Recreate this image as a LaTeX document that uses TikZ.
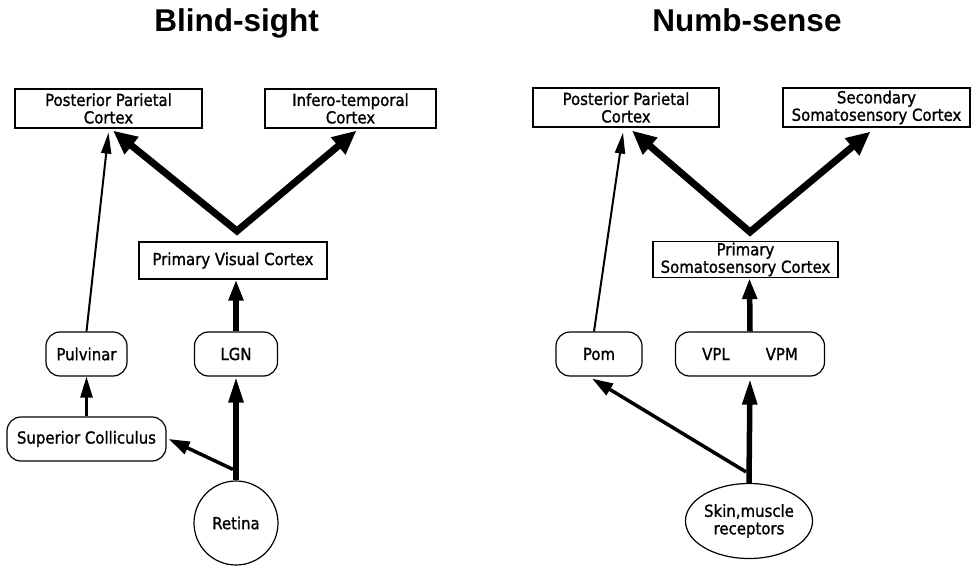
\documentclass[tikz,border=0pt]{standalone}
\usepackage{fontspec}
\setmainfont{Liberation Sans}
\newfontfamily\boxfont[FakeBold=1.2]{DejaVu Sans Condensed}
\usetikzlibrary{arrows.meta,shapes.geometric}
\begin{document}
\begin{tikzpicture}[x=1pt,y=-1pt,
  lbl/.style={font=\boxfont\fontsize{16.6}{17.5}\selectfont, align=center, inner sep=0pt},
  sqbox/.style={lbl, draw, line width=1.2pt, rectangle},
  rbox/.style={lbl, draw, line width=1.2pt, rectangle, rounded corners=14pt, minimum height=44pt},
  ttl/.style={font=\fontsize{31.5}{31.5}\selectfont\bfseries, inner sep=0pt, anchor=base},
  bigv/.style={line width=7pt, line join=miter, {Triangle[length=24pt,width=21pt]}-{Triangle[length=24pt,width=21pt]}},
  thickup/.style={line width=5.5pt, -{Triangle[length=26pt,width=14pt]}},
  midarr/.style={line width=3.5pt, -{Triangle[length=21pt,width=13pt]}},
  smallarr/.style={line width=2.5pt, -{Triangle[length=21pt,width=12pt]}},
  thinarr/.style={line width=2pt, -{Triangle[length=21pt,width=10pt]}}
]
\useasboundingbox (0,0) rectangle (972,567);

% ---------- Left: Blind-sight ----------
\node[ttl] (t1) at (236.5,32) {Blind-sight};
\node[sqbox, minimum width=187pt, minimum height=39pt] (lppc) at (108.5,108.5) {Posterior Parietal\\Cortex};
\node[sqbox, minimum width=171pt, minimum height=39pt] (lit) at (350.5,108.5) {Infero-temporal\\Cortex};
\node[sqbox, minimum width=188pt, minimum height=37pt] (pvc) at (233,260.5) {Primary Visual Cortex};
\node[rbox, minimum width=81pt] (pul) at (86.5,354) {Pulvinar};
\node[rbox, minimum width=83pt] (lgn) at (236,354) {LGN};
\node[rbox, minimum width=159pt] (sc) at (86.5,439) {Superior Colliculus};
\node[lbl, draw, line width=1.2pt, circle, minimum size=84pt] (ret) at (236,523) {Retina};

\coordinate (apexL) at (237,231);
\draw[bigv] ([xshift=4.5pt,yshift=-2pt]lppc.south) -- (apexL) -- ([xshift=6pt,yshift=-2pt]lit.south);
\draw[thickup] (ret.north) -- (lgn.south);
\draw[thickup, -{Triangle[length=21pt,width=14pt]}] (lgn.north) -- ([xshift=3pt]pvc.south);
\draw[midarr] ([xshift=-3pt,yshift=11pt]ret.north) -- ([xshift=2pt]sc.east);
\draw[smallarr] (sc.north) -- (pul.south);
\draw[thinarr] (pul.north) -- ([yshift=-4pt]lppc.south);

% ---------- Right: Numb-sense ----------
\node[ttl] (t2) at (747,32) {Numb-sense};
\node[sqbox, minimum width=186pt, minimum height=39pt] (rppc) at (626,107.5) {Posterior Parietal\\Cortex};
\node[sqbox, minimum width=187pt, minimum height=39pt] (ssc) at (876.5,107.5) {Secondary\\Somatosensory Cortex};
\node[sqbox, minimum width=185pt, minimum height=36pt] (psc) at (745.5,259.5) {Primary\\Somatosensory Cortex};
\node[rbox, minimum width=86pt] (pom) at (599,354) {Pom};
\node[rbox, minimum width=149pt] (vp) at (750,354) {VPL\hspace{36pt}VPM};
\node[lbl, draw, line width=1.2pt, ellipse, minimum width=120pt, minimum height=75pt] (skin) at (749,521) {Skin,muscle\\receptors};

\coordinate (apexR) at (750,232);
\draw[bigv] ([xshift=6pt,yshift=-3pt]rppc.south) -- (apexR) -- ([xshift=-6pt,yshift=-4pt]ssc.south);
\draw[thickup] (skin.north) -- ([yshift=-2pt]vp.south);
\draw[thickup, -{Triangle[length=21pt,width=14pt]}] (vp.north) -- ([xshift=4pt]psc.south);
\draw[midarr] ([xshift=-3pt,yshift=11pt]skin.north) -- ([xshift=-7pt,yshift=-2pt]pom.south);
\draw[thinarr] ([xshift=-5pt]pom.north) -- ([xshift=-3pt,yshift=-5pt]rppc.south);
\end{tikzpicture}
\end{document}
